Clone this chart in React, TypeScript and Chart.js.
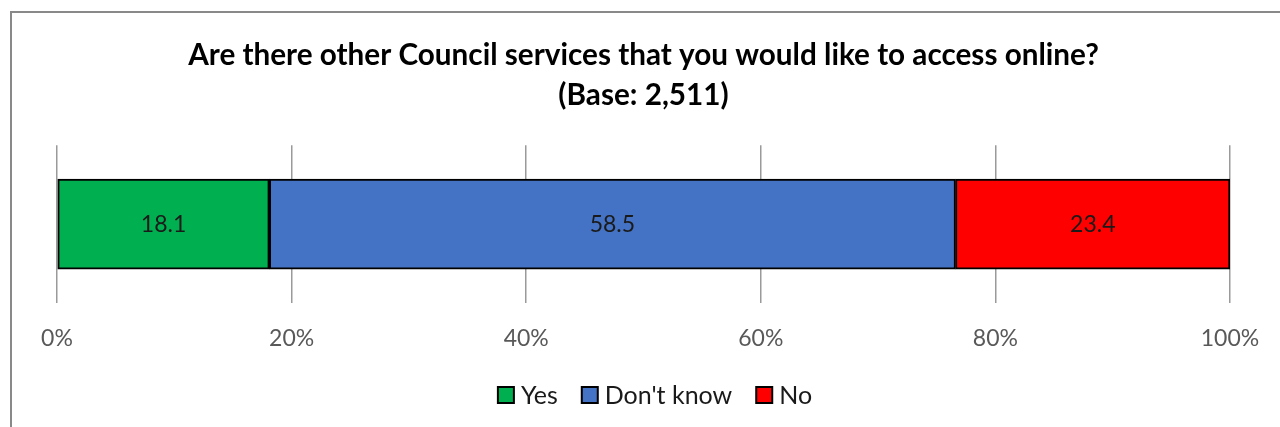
import React, { useEffect, useRef } from "react";
import { Chart, registerables } from "chart.js";

Chart.register(...registerables);

const categories = ["Council services"];
const seriesNames = ["Yes", "Don't know", "No"];
const yesValues = [18.1];
const dontKnowValues = [58.5];
const noValues = [23.4];
const seriesColors = ["#00b050", "#4472c4", "#ff0000"];
const tickValues = [0, 20, 40, 60, 80, 100];
const titleLines = [
  "Are there other Council services that you would like to access online?",
  "(Base: 2,511)",
];

const FONT = "Lato, 'Open Sans', sans-serif";

const framePlugin = {
  id: "frame",
  beforeDraw(chart: any) {
    const ctx = chart.ctx;
    ctx.save();
    ctx.fillStyle = "#ffffff";
    ctx.fillRect(0, 0, chart.width, chart.height);
    ctx.strokeStyle = "#898989";
    ctx.lineWidth = 2;
    ctx.strokeRect(11, 12, chart.width + 20, chart.height + 20);
    ctx.restore();
  },
};

const valueLabelPlugin = {
  id: "valueLabels",
  afterDatasetsDraw(chart: any) {
    const ctx = chart.ctx;
    ctx.save();
    ctx.font = `23px ${FONT}`;
    ctx.fillStyle = "#1a1a1a";
    ctx.textAlign = "center";
    ctx.textBaseline = "middle";
    chart.data.datasets.forEach((ds: any, i: number) => {
      const meta = chart.getDatasetMeta(i);
      meta.data.forEach((bar: any, j: number) => {
        const v = ds.data[j];
        const cx = (bar.x + bar.base) / 2;
        ctx.fillText(v.toFixed(1), cx, bar.y);
      });
    });
    ctx.restore();
  },
};

const legendPlugin = {
  id: "customLegend",
  afterDraw(chart: any) {
    const ctx = chart.ctx;
    ctx.save();
    ctx.font = `25px ${FONT}`;
    ctx.textBaseline = "middle";
    ctx.textAlign = "left";
    const box = 16;
    const gap = 7;
    const itemGap = 24;
    const items = chart.data.datasets.map((ds: any) => ({
      text: ds.label,
      color: ds.backgroundColor,
      w: box + gap + ctx.measureText(ds.label).width,
    }));
    const total =
      items.reduce((s: number, it: any) => s + it.w, 0) + itemGap * (items.length - 1);
    const cy = 395;
    let x = 655 - total / 2;
    items.forEach((it: any) => {
      ctx.fillStyle = it.color;
      ctx.fillRect(x, cy - box / 2, box, box);
      ctx.strokeStyle = "#000000";
      ctx.lineWidth = 2;
      ctx.strokeRect(x, cy - box / 2, box, box);
      ctx.fillStyle = "#1a1a1a";
      ctx.fillText(it.text, x + box + gap, cy + 1);
      x += it.w + itemGap;
    });
    ctx.restore();
  },
};

export default function App() {
  const ref = useRef<HTMLCanvasElement | null>(null);
  useEffect(() => {
    if (!ref.current) return;
    const values = [yesValues, dontKnowValues, noValues];
    const chart = new Chart(ref.current, {
      type: "bar",
      data: {
        labels: categories,
        datasets: seriesNames.map((name, i) => ({
          label: name,
          data: values[i],
          backgroundColor: seriesColors[i],
          borderColor: "#000000",
          borderWidth: 2,
          borderSkipped: false,
          barThickness: 90,
        })),
      },
      options: {
        indexAxis: "y",
        animation: false,
        responsive: false,
        maintainAspectRatio: false,
        layout: { padding: { left: 57, right: 50, top: 0, bottom: 59 } },
        scales: {
          x: {
            stacked: true,
            min: 0,
            max: 100,
            afterBuildTicks: (scale: any) => {
              scale.ticks = tickValues.map((v) => ({ value: v }));
            },
            ticks: {
              callback: (v: any) => `${v}%`,
              color: "#595959",
              font: { family: FONT, size: 23 },
              padding: 22,
              maxRotation: 0,
            },
            afterFit: (scale: any) => {
              scale.height = 65;
              scale.paddingLeft = 0;
              scale.paddingRight = 0;
            },
            grid: {
              color: "#9a9a9a",
              lineWidth: 1.5,
              drawTicks: false,
            },
            border: { display: false },
          },
          y: {
            stacked: true,
            display: false,
          },
        },
        plugins: {
          title: {
            display: true,
            text: titleLines,
            color: "#000000",
            font: { family: FONT, size: 29.7, weight: "bold", lineHeight: 1.35 },
            padding: { top: 35, bottom: 30 },
          },
          legend: { display: false },
          tooltip: { enabled: false },
        },
      },
      plugins: [framePlugin, valueLabelPlugin, legendPlugin],
    } as any);
    return () => chart.destroy();
  }, []);
  return (
    <div style={{ position: "fixed", left: 0, top: 0, width: 1280, height: 427 }}>
      <canvas ref={ref} width={1280} height={427} style={{ width: 1280, height: 427 }} />
    </div>
  );
}
